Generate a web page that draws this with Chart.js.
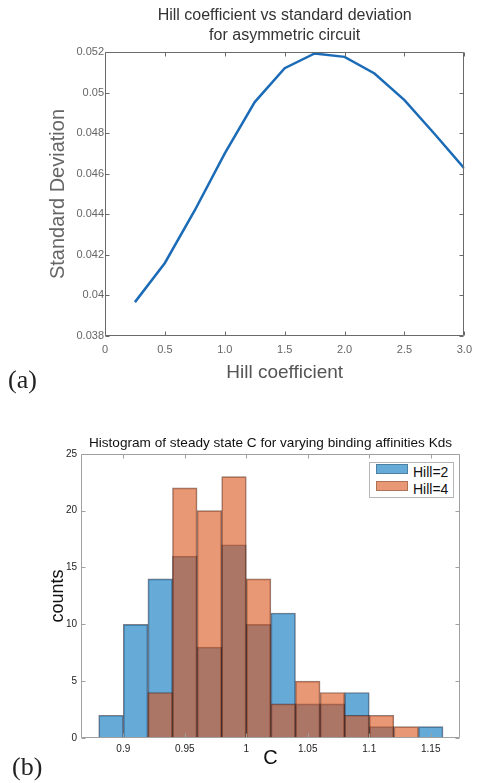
<!DOCTYPE html>
<html>
<head>
<meta charset="utf-8">
<script src="https://cdn.jsdelivr.net/npm/chart.js@4.4.1/dist/chart.umd.min.js"></script>
<style>
  html, body { margin: 0; padding: 0; background: #fff; }
  body { width: 479px; height: 783px; position: relative; overflow: hidden; font-family: "Liberation Sans", Arial, sans-serif; }
  #chartA { position: absolute; left: 0; top: 0; }
  #chartB { position: absolute; left: 0; top: 400px; }
  .panel { position: absolute; font-family: "Liberation Serif", "DejaVu Serif", serif; font-size: 26px; line-height: 30px; color: #222; }
  #legendB { position: absolute; left: 369px; top: 462px; width: 85px; height: 36px; box-sizing: border-box;
             border: 1px solid #b5b5b5; background: #fff; }
  #legendB .item { position: absolute; left: 6px; height: 17px; font-size: 14px; line-height: 17px; color: #111; white-space: nowrap; }
  #legendB .sw { display: inline-block; width: 30px; height: 8px; margin-right: 5px; vertical-align: 3px; border: 1px solid rgba(0,0,0,0.25); }
</style>
</head>
<body>
<canvas id="chartA" width="479" height="395"></canvas>
<canvas id="chartB" width="479" height="383"></canvas>
<div class="panel" style="left:8px; top:365px;">(a)</div>
<div class="panel" style="left:12px; top:752px;">(b)</div>
<div id="legendB"></div>
<script>
// (a) Hill coefficient vs standard deviation
const hillCoef = [0.25, 0.5, 0.75, 1.0, 1.25, 1.5, 1.75, 2.0, 2.25, 2.5, 2.75, 3.0];
const stdDev = [0.03967, 0.0416, 0.0442, 0.0470, 0.04953, 0.0512, 0.05193, 0.05176, 0.05094, 0.04963, 0.04797, 0.04626];
const hillTicks = [0, 0.5, 1.0, 1.5, 2.0, 2.5, 3.0];
const hillTickLabels = ['0', '0.5', '1.0', '1.5', '2.0', '2.5', '3.0'];
const sdTicks = [0.038, 0.040, 0.042, 0.044, 0.046, 0.048, 0.050, 0.052];
const sdTickLabels = ['0.038', '0.04', '0.042', '0.044', '0.046', '0.048', '0.05', '0.052'];

// (b) histogram of steady state C
const binEdges = [0.88, 0.90, 0.92, 0.94, 0.96, 0.98, 1.00, 1.02, 1.04, 1.06, 1.08, 1.10, 1.12, 1.14, 1.16];
const countsHill2 = [2, 10, 14, 16, 8, 17, 10, 11, 3, 3, 4, 1, 0, 1];
const countsHill4 = [0, 0, 4, 22, 20, 23, 14, 3, 5, 4, 2, 2, 1, 0];
const seriesLabels = ['Hill=2', 'Hill=4'];
const cTicks = [0.9, 0.95, 1, 1.05, 1.1, 1.15];
const cTickLabels = ['0.9', '0.95', '1', '1.05', '1.1', '1.15'];
const countTicks = [0, 5, 10, 15, 20, 25];

const blueFill = 'rgba(0, 114, 189, 0.6)';
const orangeFill = 'rgba(217, 83, 25, 0.6)';

Chart.defaults.font.family = '"Liberation Sans", Arial, Helvetica, sans-serif';

// box around the plot with inward tick marks, like matlab axes
const framePlugin = {
  id: 'frame',
  afterDatasetsDraw(chart, args, opts) {
    const { ctx, chartArea: a, scales } = chart;
    const len = opts.tickLen || 4;
    const l = Math.round(a.left) + 0.5, r = Math.round(a.right) - 0.5;
    const t = Math.round(a.top) + 0.5, b = Math.round(a.bottom) - 0.5;
    ctx.save();
    ctx.strokeStyle = opts.color || '#666';
    ctx.lineWidth = 1;
    ctx.beginPath();
    ctx.rect(l, t, r - l, b - t);
    scales.x.ticks.forEach(tk => {
      const x = Math.round(scales.x.getPixelForValue(tk.value)) + 0.5;
      ctx.moveTo(x, b); ctx.lineTo(x, b - len);
      ctx.moveTo(x, t); ctx.lineTo(x, t + len);
    });
    scales.y.ticks.forEach(tk => {
      const y = Math.round(scales.y.getPixelForValue(tk.value)) + 0.5;
      ctx.moveTo(l, y); ctx.lineTo(l + len, y);
      ctx.moveTo(r, y); ctx.lineTo(r - len, y);
    });
    ctx.stroke();
    ctx.restore();
  }
};

new Chart(document.getElementById('chartA'), {
  type: 'line',
  data: {
    datasets: [{
      data: hillCoef.map((h, i) => ({ x: h, y: stdDev[i] })),
      borderColor: '#1b6bb7',
      borderWidth: 2.5,
      pointRadius: 0,
      tension: 0
    }]
  },
  options: {
    responsive: false,
    animation: false,
    layout: { padding: { left: 0, right: 13, top: 0, bottom: 0 } },
    plugins: {
      legend: { display: false },
      tooltip: { enabled: false },
      title: {
        display: true,
        fullSize: false,
        text: ['Hill coefficient vs standard deviation', 'for asymmetric circuit'],
        color: '#333',
        font: { size: 16, weight: 'normal', lineHeight: 1.2 },
        padding: { top: 6.4, bottom: 7.2 }
      },
      frame: { color: '#6a6a6a', tickLen: 4 }
    },
    scales: {
      x: {
        type: 'linear', min: 0, max: 3,
        afterBuildTicks: s => { s.ticks = hillTicks.map(v => ({ value: v })); },
        afterFit: s => { s.height = 59; },
        grid: { display: false, drawTicks: false },
        border: { display: false },
        ticks: { callback: (v, i) => hillTickLabels[i], color: '#666', font: { size: 11 }, padding: 7, maxRotation: 0, autoSkip: false },
        title: { display: true, text: 'Hill coefficient', color: '#555', font: { size: 19 }, padding: { top: 0, bottom: 11 } }
      },
      y: {
        min: 0.038, max: 0.052,
        afterBuildTicks: s => { s.ticks = sdTicks.map(v => ({ value: v })); },
        afterFit: s => { s.width = 105; },
        grid: { display: false, drawTicks: false },
        border: { display: false },
        ticks: { callback: (v, i) => sdTickLabels[i], color: '#666', font: { size: 11 }, padding: 1, autoSkip: false },
        title: { display: true, text: 'Standard Deviation', color: '#666', font: { size: 20 }, padding: { top: 46, bottom: 0 } }
      }
    }
  },
  plugins: [framePlugin]
});

const binCenters = binEdges.slice(0, -1).map((e, i) => (e + binEdges[i + 1]) / 2);

const chartB = new Chart(document.getElementById('chartB'), {
  type: 'bar',
  data: {
    datasets: [
      {
        label: seriesLabels[0],
        data: binCenters.map((c, i) => ({ x: c, y: countsHill2[i] })),
        backgroundColor: blueFill,
        borderColor: 'rgba(20, 20, 40, 0.55)',
        borderWidth: 1,
        barPercentage: 1, categoryPercentage: 1, grouped: false,
        order: 2
      },
      {
        label: seriesLabels[1],
        data: binCenters.map((c, i) => ({ x: c, y: countsHill4[i] })),
        backgroundColor: orangeFill,
        borderColor: 'rgba(60, 20, 10, 0.55)',
        borderWidth: 1,
        barPercentage: 1, categoryPercentage: 1, grouped: false,
        order: 1
      }
    ]
  },
  options: {
    responsive: false,
    animation: false,
    layout: { padding: { left: 0, right: 19, top: 0, bottom: 0 } },
    plugins: {
      legend: { display: false },
      tooltip: { enabled: false },
      title: {
        display: true,
        fullSize: false,
        text: 'Histogram of steady state C for varying binding affinities Kds',
        color: '#111',
        font: { size: 13.6, weight: 'normal', lineHeight: 1.2 },
        padding: { top: 35, bottom: 2.5 }
      },
      frame: { color: '#a0a0a0', tickLen: 4 }
    },
    scales: {
      x: {
        type: 'linear', min: 0.8656, max: 1.1738, offset: false,
        afterBuildTicks: s => { s.ticks = cTicks.map(v => ({ value: v })); },
        afterFit: s => { s.height = 45; },
        grid: { display: false, drawTicks: false, offset: false },
        border: { display: false },
        ticks: { callback: (v, i) => cTickLabels[i], color: '#222', font: { size: 10 }, padding: 5, maxRotation: 0, autoSkip: false },
        title: { display: true, text: 'C', color: '#111', font: { size: 20 }, padding: { top: 0, bottom: 13 } }
      },
      y: {
        min: 0, max: 25,
        afterBuildTicks: s => { s.ticks = countTicks.map(v => ({ value: v })); },
        afterFit: s => { s.width = 81; },
        grid: { display: false, drawTicks: false },
        border: { display: false },
        ticks: { color: '#222', font: { size: 10 }, padding: 4, autoSkip: false },
        title: { display: true, text: 'counts', color: '#111', font: { size: 18 }, padding: { top: 47, bottom: 0 } }
      }
    }
  },
  plugins: [framePlugin]
});

// legend box drawn as html, top right inside the histogram
const legendBox = document.getElementById('legendB');
chartB.data.datasets.forEach((ds, i) => {
  const item = document.createElement('div');
  item.className = 'item';
  item.style.top = (i === 0 ? 1 : 18) + 'px';
  item.innerHTML = `<span class="sw" style="background:${ds.backgroundColor}"></span>${ds.label}`;
  legendBox.appendChild(item);
});
</script>
</body>
</html>
